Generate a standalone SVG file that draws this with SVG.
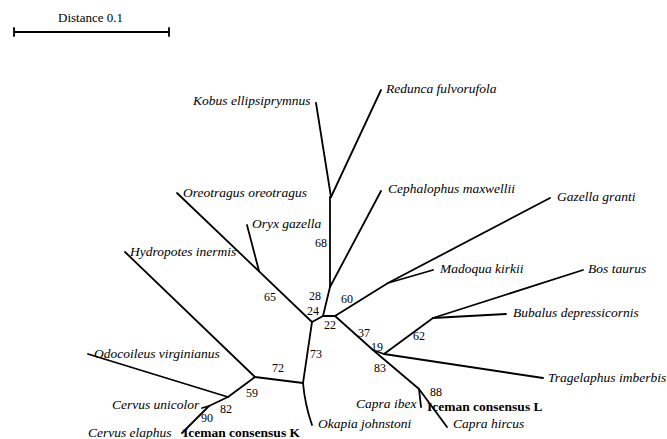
<svg xmlns="http://www.w3.org/2000/svg" width="667" height="439" viewBox="0 0 667 439">
<style>
.e{stroke:#000;stroke-width:1.8;fill:none;stroke-linecap:round;stroke-linejoin:round}
.t{font-family:"Liberation Serif",serif;font-style:italic;font-size:13.5px;fill:#000}
.b{font-family:"Liberation Serif",serif;font-weight:bold;font-size:13.5px;fill:#000}
.n{font-family:"Liberation Serif",serif;font-size:12px;fill:#000;text-anchor:middle}
.s{font-family:"Liberation Serif",serif;font-size:13px;fill:#000}
</style>
<rect width="667" height="439" fill="#fff"/>
<g id="scale">
<text class="s" x="58" y="22">Distance 0.1</text>
<path class="e" d="M14 32H169M14 28V36M169 28V36" stroke-width="1.3"/>
</g>
<g id="connectors">
<path class="e" d="M312 322L323 316H335"/>
<path class="e" d="M323 316L330 287V197"/>
<path class="e" d="M331 197L316 103"/>
<path class="e" d="M331 197L381 90"/>
<path class="e" d="M330 287L381 191"/>
<path class="e" d="M335 316L388 283L550 198"/>
<path class="e" d="M388 283L433 270"/>
<path class="e" d="M335 316L373 350L384 354L433 318L583 270"/>
<path class="e" d="M433 318L506 314"/>
<path class="e" d="M384 354L543 378"/>
<path class="e" d="M373 350L419 389L447 427"/>
<path class="e" d="M419 389L421 407"/>
<path class="e" d="M312 322L177 193"/>
<path class="e" d="M259 271L247 225"/>
<path class="e" d="M312 322L303 383Q305 405 312 425"/>
<path class="e" d="M303 383L255 377L125 252"/>
<path class="e" d="M255 377L228 397L88 354"/>
<path class="e" d="M228 397L209 406L182 433"/>
<path class="e" d="M209 406L202 408"/>
</g>
<g id="labels">
<text class="n" x="321" y="247">68</text>
<text class="n" x="315" y="300">28</text>
<text class="n" x="313" y="315">24</text>
<text class="n" x="330" y="329">22</text>
<text class="n" x="347" y="303">60</text>
<text class="n" x="270" y="301">65</text>
<text class="n" x="364" y="337">37</text>
<text class="n" x="377" y="351">19</text>
<text class="n" x="419" y="340">62</text>
<text class="n" x="380" y="372">83</text>
<text class="n" x="316" y="358">73</text>
<text class="n" x="278" y="372">72</text>
<text class="n" x="252" y="397">59</text>
<text class="n" x="226" y="413">82</text>
<text class="n" x="207" y="422">90</text>
<text class="n" x="436" y="396">88</text>
</g>
<g id="kobus"><text class="t" x="193" y="105">Kobus ellipsiprymnus</text></g>
<g id="redunca"><text class="t" x="386" y="93">Redunca fulvorufola</text></g>
<g id="oreotragus"><text class="t" x="183" y="197">Oreotragus oreotragus</text></g>
<g id="oryx"><text class="t" x="252" y="228">Oryx gazella</text></g>
<g id="hydropotes"><text class="t" x="130" y="256">Hydropotes inermis</text></g>
<g id="cephalophus"><text class="t" x="388" y="193">Cephalophus maxwellii</text></g>
<g id="gazella"><text class="t" x="557" y="201">Gazella granti</text></g>
<g id="madoqua"><text class="t" x="440" y="273">Madoqua kirkii</text></g>
<g id="bos"><text class="t" x="588" y="273">Bos taurus</text></g>
<g id="bubalus"><text class="t" x="513" y="317">Bubalus depressicornis</text></g>
<g id="tragelaphus"><text class="t" x="548" y="382">Tragelaphus imberbis</text></g>
<g id="capraibex"><text class="t" x="356" y="408">Capra ibex</text></g>
<g id="icemanL"><text class="b" x="427" y="411">Iceman consensus L</text></g>
<g id="caprahircus"><text class="t" x="453" y="428">Capra hircus</text></g>
<g id="okapia"><text class="t" x="318" y="428">Okapia johnstoni</text></g>
<g id="odocoileus"><text class="t" x="94" y="358">Odocoileus virginianus</text></g>
<g id="cervusunicolor"><text class="t" x="112" y="409">Cervus unicolor</text></g>
<g id="cervuselaphus"><text class="t" x="88" y="437">Cervus elaphus</text></g>
<g id="icemanK"><text class="b" x="183" y="437">Iceman consensus K</text></g>
</svg>
